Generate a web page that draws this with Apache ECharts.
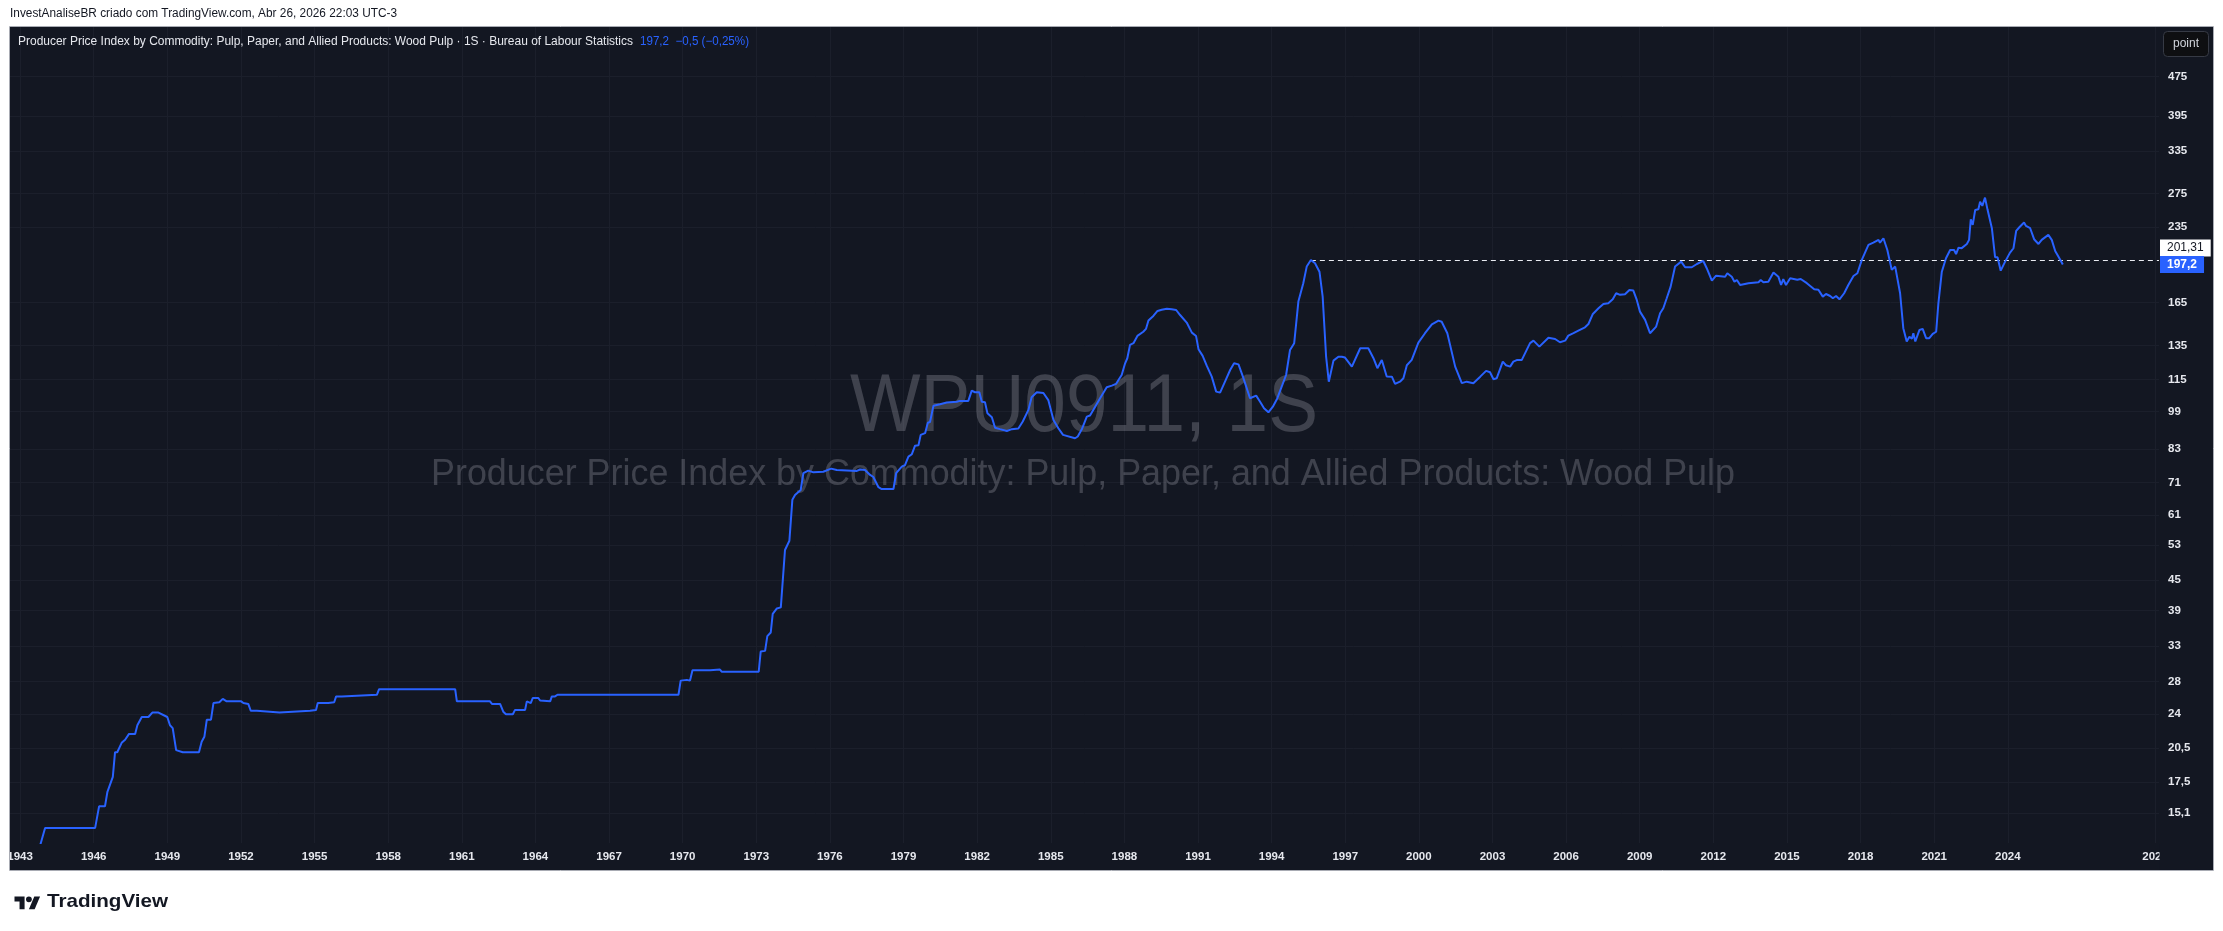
<!DOCTYPE html>
<html>
<head>
<meta charset="utf-8">
<script src="https://cdn.jsdelivr.net/npm/echarts@6/dist/echarts.min.js"></script>
<style>
html,body{margin:0;padding:0;background:#ffffff;}
#chart{width:2223px;height:931px;}
</style>
</head>
<body>
<div id="chart"></div>
<script>
// ---------------- DATA ----------------
const years = [
1943.80,1944.02,1946.06,1946.13,1946.22,1946.46,1946.56,1946.78,1946.87,1946.96,
1947.14,1947.28,1947.44,1947.69,1947.78,1947.96,1948.23,1948.39,1948.64,1949.00,
1949.11,1949.22,1949.36,1949.63,1950.29,1950.40,1950.51,1950.61,1950.78,1950.88,
1951.12,1951.26,1951.42,1952.01,1952.10,1952.30,1952.40,1952.65,1952.71,1953.57,
1953.62,1954.82,1954.89,1955.06,1955.13,1955.56,1955.80,1955.88,1956.11,1956.15,
1957.54,1957.63,1960.73,1960.80,1962.15,1962.23,1962.56,1962.69,1962.80,1963.08,
1963.17,1963.58,1963.65,1963.71,1963.81,1963.89,1964.12,1964.19,1964.60,1964.67,
1964.80,1964.90,1969.83,1969.92,1970.17,1970.30,1970.40,1971.12,1971.19,1971.52,
1971.59,1973.10,1973.18,1973.36,1973.45,1973.59,1973.67,1973.84,1974.00,1974.17,
1974.35,1974.47,1974.58,1974.81,1974.92,1975.12,1975.33,1975.73,1976.05,1976.28,
1977.10,1977.23,1977.43,1977.64,1977.77,1977.98,1978.11,1978.59,1978.70,1978.93,
1979.06,1979.20,1979.34,1979.47,1979.61,1979.70,1979.88,1979.99,1980.08,1980.22,
1980.49,1980.76,1981.17,1981.30,1981.64,1981.78,1981.91,1982.09,1982.19,1982.32,
1982.42,1982.60,1982.73,1982.93,1983.21,1983.41,1983.68,1983.86,1984.09,1984.22,
1984.43,1984.70,1984.90,1985.11,1985.31,1985.50,1985.99,1986.10,1986.26,1986.47,
1986.60,1986.81,1987.01,1987.28,1987.49,1987.66,1987.76,1987.89,1988.03,1988.12,
1988.23,1988.37,1988.53,1988.77,1988.88,1988.98,1989.18,1989.35,1989.52,1989.73,
1989.93,1990.11,1990.27,1990.54,1990.75,1990.92,1991.02,1991.19,1991.36,1991.56,
1991.74,1991.90,1992.10,1992.31,1992.47,1992.65,1992.83,1993.12,1993.37,1993.53,
1993.69,1993.87,1994.05,1994.23,1994.41,1994.59,1994.75,1994.92,1995.09,1995.29,
1995.43,1995.60,1995.77,1995.95,1996.08,1996.22,1996.33,1996.52,1996.72,1996.86,
1996.99,1997.27,1997.61,1997.94,1998.15,1998.31,1998.49,1998.69,1998.90,1999.03,
1999.23,1999.37,1999.51,1999.71,1999.98,2000.25,2000.53,2000.80,2000.93,2001.16,
2001.48,2001.75,2001.95,2002.22,2002.50,2002.74,2002.90,2003.04,2003.17,2003.42,
2003.55,2003.72,2003.85,2004.01,2004.19,2004.53,2004.67,2004.91,2005.28,2005.55,
2005.75,2005.96,2006.09,2006.30,2006.50,2006.77,2006.91,2007.09,2007.32,2007.52,
2007.72,2007.90,2008.04,2008.20,2008.40,2008.58,2008.74,2008.88,2009.01,2009.22,
2009.42,2009.49,2009.67,2009.83,2009.96,2010.10,2010.26,2010.44,2010.69,2010.85,
2011.12,2011.33,2011.59,2011.73,2011.94,2012.11,2012.48,2012.57,2012.75,2012.86,
2012.96,2013.09,2013.43,2013.50,2013.84,2013.93,2014.04,2014.24,2014.45,2014.65,
2014.76,2014.85,2014.96,2015.13,2015.42,2015.56,2015.81,2016.11,2016.28,2016.46,
2016.59,2016.76,2016.87,2017.00,2017.14,2017.33,2017.50,2017.71,2017.87,2018.05,
2018.32,2018.52,2018.73,2018.79,2018.93,2019.09,2019.17,2019.27,2019.34,2019.41,
2019.61,2019.74,2019.88,2019.99,2020.09,2020.15,2020.23,2020.40,2020.53,2020.67,
2020.80,2020.94,2021.08,2021.17,2021.31,2021.48,2021.65,2021.81,2021.89,2021.99,
2022.12,2022.33,2022.42,2022.49,2022.57,2022.67,2022.80,2022.87,2022.96,2023.07,
2023.17,2023.25,2023.35,2023.48,2023.58,2023.71,2023.89,2024.09,2024.23,2024.34,
2024.47,2024.66,2024.74,2024.91,2025.07,2025.25,2025.38,2025.65,2025.79,2025.93,
2026.10,2026.24
];
const values = [
12.9,14.1,14.1,14.2,15.6,15.6,16.7,17.9,20.1,20.1,
21.0,21.3,21.9,21.9,22.8,23.7,23.7,24.2,24.2,23.7,
22.8,22.5,20.3,20.1,20.1,21.1,21.6,23.4,23.4,25.3,
25.4,25.8,25.5,25.5,25.3,25.2,24.4,24.4,24.2,24.2,
24.4,24.4,24.5,24.5,25.3,25.3,25.4,26.1,26.1,26.3,
26.3,27.0,27.0,25.5,25.5,25.2,25.2,24.3,24.0,24.0,
24.5,24.5,25.5,25.3,25.3,25.9,25.9,25.6,25.5,26.1,
26.1,26.3,26.3,28.1,28.2,28.1,29.5,29.5,29.6,29.6,
29.3,29.3,32.2,32.3,34.6,35.2,38.4,39.4,39.6,51.8,
54.1,65.5,67.0,68.6,74.2,75.1,74.5,74.7,75.8,75.3,
75.0,75.5,75.3,73.6,72.9,69.5,68.9,68.9,74.2,76.5,
77.1,80.2,81.1,84.4,84.6,88.8,89.5,94.0,94.3,101.8,
102.5,103.3,103.7,104.1,104.1,109.2,108.4,108.4,103.7,103.4,
98.2,96.4,91.8,91.2,90.4,91.2,91.5,94.5,99.8,105.9,
108.4,108.0,104.5,95.2,91.6,88.8,87.4,88.1,91.0,96.7,
97.2,101.3,105.4,111.0,111.8,112.7,114.8,117.5,124.1,127.1,
135.3,136.4,141.1,143.9,145.8,151.6,154.9,158.6,159.5,160.3,
159.8,159.3,155.6,150.2,143.3,141.1,132.6,128.5,122.6,116.6,
108.7,108.2,113.9,120.3,124.1,123.5,116.6,105.4,106.7,103.7,
100.6,98.7,101.3,105.3,111.3,117.5,132.1,136.4,165.7,180.6,
195.2,201.31,198.3,190.6,169.6,128.0,113.9,125.7,128.0,128.0,
127.5,122.2,133.2,133.2,127.1,121.3,126.1,116.7,116.6,112.7,
113.9,115.7,123.0,126.1,136.7,142.9,149.0,151.6,150.8,142.9,
122.2,113.1,113.9,113.1,116.6,119.8,119.0,115.2,115.7,125.1,
123.0,122.2,125.1,126.1,126.0,136.4,138.0,134.2,139.9,139.1,
137.0,138.0,141.3,142.9,144.6,146.9,149.2,156.4,160.6,163.9,
164.5,167.5,172.3,171.0,171.5,175.0,174.5,167.0,158.1,152.1,
142.9,142.2,147.4,156.9,160.6,168.3,177.7,195.2,199.8,194.6,
194.6,197.6,200.4,193.7,182.8,187.1,186.2,189.2,186.2,181.9,
183.3,179.1,180.6,181.9,181.4,183.3,181.4,181.9,189.8,186.2,
179.1,184.0,179.1,184.8,183.6,184.2,180.6,175.6,175.1,169.6,
171.7,170.1,168.3,170.1,167.5,172.3,179.1,186.8,189.2,201.4,
216.0,218.3,221.2,218.3,222.9,211.0,211.0,192.2,190.6,195.2,
172.3,146.3,137.5,140.6,139.3,142.9,137.5,145.1,145.8,139.6,
139.6,142.4,143.9,164.4,190.6,203.0,211.0,211.0,207.0,213.3,
212.8,217.0,221.2,243.6,237.2,254.5,255.2,264.6,259.4,269.6,
255.2,254.5,233.6,204.0,204.0,191.5,199.8,208.4,212.7,230.7,
234.7,239.9,236.1,233.6,221.9,217.0,221.2,226.4,221.2,210.0,
203.0,197.2
];
// axis ticks
const xTickValues = [1943,1946,1949,1952,1955,1958,1961,1964,1967,1970,1973,1976,1979,1982,1985,1988,1991,1994,1997,2000,2003,2006,2009,2012,2015,2018,2021,2024,2030];
const xTickLabels = ['1943','1946','1949','1952','1955','1958','1961','1964','1967','1970','1973','1976','1979','1982','1985','1988','1991','1994','1997','2000','2003','2006','2009','2012','2015','2018','2021','2024','2027'];
const yTickValues = [15.1,17.5,20.5,24,28,33,39,45,53,61,71,83,99,115,135,165,235,275,335,395,475];
// reference marks
const peakYear = 1995.60;
const peakValue = 201.31;
const peakLabel = '201,31';
const lastValue = 197.2;
const lastLabel = '197,2';
const lastChange = '\u22120,5 (\u22120,25%)';
// texts
const headerText = 'InvestAnaliseBR criado com TradingView.com, Abr 26, 2026 22:03 UTC-3';
const seriesTitle = 'Producer Price Index by Commodity: Pulp, Paper, and Allied Products: Wood Pulp';
const legendText = seriesTitle + ' \u00b7 1S \u00b7 Bureau of Labour Statistics';
const watermarkSymbol = 'WPU0911, 1S';

// ---------------- LAYOUT / STYLE ----------------
const FONT = 'Liberation Sans, Arial, sans-serif';
const BG = '#131722';
const TEXT = '#e6e8ee';
const BLUE = '#2962ff';
const GRIDC = '#1b1f2b';
const X_MIN = 1942.59, X_MAX = 2030.16;
const Y_MIN = 13.14, Y_MAX = 599.2;

const mctx = document.createElement('canvas').getContext('2d');
function fit(text, font, target) { mctx.font = font; return target / mctx.measureText(text).width; }

const chart = echarts.init(document.getElementById('chart'), null, {renderer: 'canvas'});

const fWM1 = '81px ' + FONT, fWM2 = '37px ' + FONT;
const fLeg = '12px ' + FONT, fHead = '12px ' + FONT, fLogo = 'bold 19px ' + FONT;

const option = {
  animation: false,
  backgroundColor: '#ffffff',
  textStyle: {fontFamily: FONT},
  grid: {left: 10, right: 64, top: 27, bottom: 88, containLabel: false, outerBoundsMode: 'none'},
  xAxis: {
    type: 'value', min: X_MIN, max: X_MAX,
    axisLine: {show: false},
    axisTick: {show: false, customValues: xTickValues},
    axisLabel: {
      customValues: xTickValues,
      formatter: function (v) { const i = xTickValues.indexOf(v); return i >= 0 ? xTickLabels[i] : ''; },
      color: TEXT, fontSize: 11.5, fontWeight: 'bold', margin: 8, fontFamily: FONT
    },
    splitLine: {show: true, lineStyle: {color: GRIDC, width: 1}}
  },
  yAxis: {
    type: 'log', logBase: 10, min: Y_MIN, max: Y_MAX, position: 'right',
    axisLine: {show: false},
    axisTick: {show: false, customValues: yTickValues},
    axisLabel: {
      customValues: yTickValues,
      formatter: function (v) { return String(Math.round(v * 10) / 10).replace('.', ','); },
      color: TEXT, fontSize: 11.5, fontWeight: 'bold', margin: 9, fontFamily: FONT
    },
    splitLine: {show: true, lineStyle: {color: GRIDC, width: 1}}
  },
  series: [{
    type: 'line',
    data: years.map(function (y, i) { return [y, values[i]]; }),
    showSymbol: false, symbol: 'none', silent: true,
    lineStyle: {color: BLUE, width: 2},
    z: 5,
    markLine: {
      silent: true, animation: false, symbol: ['none', 'none'],
      data: [
        [
          {coord: [peakYear, peakValue],
           lineStyle: {color: '#e8eaf0', width: 1, type: [5, 4]},
           label: {show: true, position: 'end', distance: 1, offset: [0, -12], formatter: peakLabel,
                   backgroundColor: '#ffffff', color: '#131722', padding: [3, 7, 2, 7],
                   fontSize: 12, fontFamily: FONT}},
          {coord: [X_MAX, peakValue]}
        ],
        [
          {coord: [X_MIN, lastValue],
           lineStyle: {color: 'rgba(0,0,0,0)', width: 1, type: 'solid'},
           label: {show: true, position: 'end', distance: 1, formatter: lastLabel,
                   backgroundColor: BLUE, color: '#ffffff', padding: [3, 7, 2, 7],
                   fontSize: 12, fontWeight: 'bold', fontFamily: FONT}},
          {coord: [X_MAX, lastValue]}
        ]
      ]
    }
  }],
  graphic: [
    // panel background
    {type: 'rect', z: -100, silent: true, shape: {x: 10, y: 27, width: 2203, height: 843}, style: {fill: BG}},
    // watermark
    {type: 'text', z: 1, silent: true, x: 1084, y: 409, scaleX: fit(watermarkSymbol, fWM1, 468),
     style: {text: watermarkSymbol, font: fWM1, fill: 'rgba(178,181,190,0.28)', align: 'center', verticalAlign: 'middle'}},
    {type: 'text', z: 1, silent: true, x: 1083, y: 475, scaleX: fit(seriesTitle, fWM2, 1304),
     style: {text: seriesTitle, font: fWM2, fill: 'rgba(178,181,190,0.28)', align: 'center', verticalAlign: 'middle'}},
    // clip overlays for cut axis labels
    {type: 'rect', z: 50, silent: true, shape: {x: 0, y: 20, width: 9.5, height: 860}, style: {fill: '#ffffff'}},
    {type: 'rect', z: 50, silent: true, shape: {x: 2159.5, y: 844, width: 53, height: 25.5}, style: {fill: BG}},
    // panel border
    {type: 'rect', z: 60, silent: true, shape: {x: 9.5, y: 26.5, width: 2204, height: 844}, style: {fill: 'none', stroke: '#a8abb3', lineWidth: 1}},
    // header line (white strip)
    {type: 'text', z: 60, silent: true, x: 10, y: 14, scaleX: fit(headerText, fHead, 387),
     style: {text: headerText, font: fHead, fill: '#131722', align: 'left', verticalAlign: 'middle'}},
    // legend inside the pane
    {type: 'text', z: 60, silent: true, x: 18, y: 42, scaleX: fit(legendText, fLeg, 615),
     style: {text: legendText, font: fLeg, fill: '#e6e8ee', align: 'left', verticalAlign: 'middle'}},
    {type: 'text', z: 60, silent: true, x: 640, y: 42, scaleX: fit(lastLabel + '  ' + lastChange, fLeg, 109),
     style: {text: lastLabel + '  ' + lastChange, font: fLeg, fill: BLUE, align: 'left', verticalAlign: 'middle'}},
    // "point" button
    {type: 'rect', z: 60, silent: true, shape: {x: 2163.5, y: 31.5, width: 45, height: 25, r: 4},
     style: {fill: '#0e0f12', stroke: '#363a45', lineWidth: 1}},
    {type: 'text', z: 61, silent: true, x: 2186, y: 44,
     style: {text: 'point', font: '12px ' + FONT, fill: '#d1d4dc', align: 'center', verticalAlign: 'middle'}},
    // TradingView logo
    {type: 'group', z: 60, silent: true, x: 14.5, y: 893.5, scaleX: 0.72, scaleY: 0.72, children: [
      {type: 'polygon', shape: {points: [[0,4],[14,4],[14,22],[7,22],[7,11],[0,11]]}, style: {fill: '#131722'}},
      {type: 'circle', shape: {cx: 20, cy: 8, r: 4}, style: {fill: '#131722'}},
      {type: 'polygon', shape: {points: [[20,22],[27.5,4],[35.5,4],[28,22]]}, style: {fill: '#131722'}}
    ]},
    {type: 'text', z: 60, silent: true, x: 47, y: 902, scaleX: fit('TradingView', fLogo, 121),
     style: {text: 'TradingView', font: fLogo, fill: '#131722', align: 'left', verticalAlign: 'middle'}}
  ]
};
chart.setOption(option);
</script>
</body>
</html>
